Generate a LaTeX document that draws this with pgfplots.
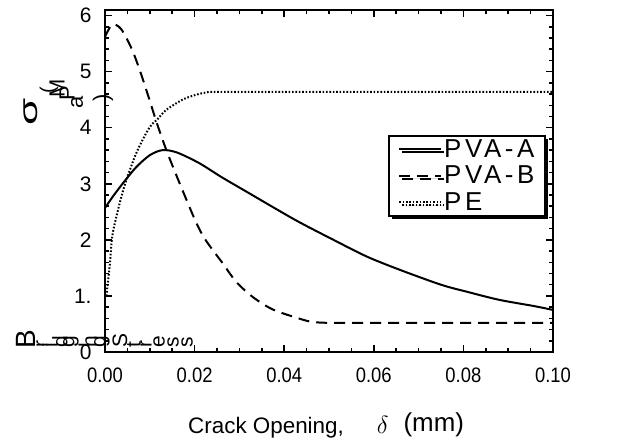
\documentclass[border=0pt]{standalone}
\usepackage{fontspec}
\setmainfont{Liberation Sans}
\newfontfamily\legfont[LetterSpace=14]{Liberation Sans}
\usepackage{pgfplots}
\pgfplotsset{compat=1.18}
\usetikzlibrary{shadows}

\begin{document}
\begin{tikzpicture}[x=1bp,y=1bp]
\path[use as bounding box] (0,0) rectangle (631,442);
\begin{axis}[
  at={(105bp,90bp)}, anchor=south west,
  scale only axis, width=448bp, height=342bp,
  xmin=0, xmax=0.1, ymin=0, ymax=6.1,
  xtick={0,0.02,0.04,0.06,0.08,0.1},
  xticklabels={\scalebox{0.88}[1]{0.00},\scalebox{0.88}[1]{0.02},\scalebox{0.88}[1]{0.04},\scalebox{0.88}[1]{0.06},\scalebox{0.88}[1]{0.08},\scalebox{0.88}[1]{0.10}},
  minor x tick num=3,
  ytick={0,1,2,3,4,5,6},
  yticklabels={\raisebox{-6bp}{0},1.,2,3,4,5,6},
  minor y tick num=4,
  axis line style={line width=2.5bp},
  every tick/.style={black, line width=1.5bp},
  major tick length=7bp, minor tick length=4bp,
  tick align=inside,
  /pgf/number format/assume math mode=true,
  ticklabel style={font=\fontsize{21}{24}\selectfont},
  xticklabel style={yshift=-12bp},
  yticklabel style={xshift=-10bp},
  xlabel={Crack Opening,\hspace{33bp}{\fontsize{32}{32}\selectfont$\delta$}\hspace{15bp}\raisebox{2bp}{\fontsize{26}{26}\selectfont(mm)}},
  xlabel style={at={(axis description cs:0.4935,-0.237)}, anchor=base, font=\fontsize{22.5}{26}\selectfont},
  legend style={at={(axis description cs:0.632,0.635)}, anchor=north west,
    draw=black, line width=2bp, fill=white,
    drop shadow={shadow xshift=3bp, shadow yshift=-3bp, opacity=1, fill=black},
    font=\legfont\fontsize{26}{28}\selectfont,
    inner xsep=9bp, inner ysep=2bp, row sep=3bp},
  legend cell align=left,
  legend image code/.code={\draw[#1] (0bp,0bp) -- (42bp,0bp);},
]
\addplot[black, line width=2bp, smooth, tension=0.5] coordinates {
(0,2.57) (0.002,2.80) (0.0043,3.04) (0.007,3.30) (0.010,3.51) (0.0128,3.60)
(0.016,3.56) (0.021,3.37) (0.026,3.12) (0.032,2.84) (0.038,2.56) (0.0435,2.31)
(0.051,2.00) (0.0585,1.70) (0.066,1.46) (0.075,1.20) (0.081,1.07) (0.088,0.93)
(0.0957,0.82) (0.1,0.75)
};
\addlegendentry{PVA-A}
\addplot[black, line width=2bp, dash pattern=on 11bp off 7bp, smooth, tension=0.5] coordinates {
(0,5.62) (0.0016,5.84) (0.0036,5.76) (0.006,5.40) (0.008,4.97) (0.010,4.48)
(0.0115,4.10) (0.0137,3.60) (0.0166,3.02) (0.0204,2.30) (0.0226,1.98)
(0.0262,1.59) (0.0293,1.25) (0.033,0.98) (0.0374,0.76) (0.0428,0.61)
(0.046,0.54) (0.050,0.52) (0.060,0.52) (0.080,0.52) (0.1,0.52)
};
\addlegendentry{PVA-B}
\addplot[black, line width=2bp, dash pattern=on 1.6bp off 1.8bp, smooth, tension=0.5] coordinates {
(0.0003,1.0) (0.001,1.5) (0.0016,2.05) (0.0025,2.4) (0.0043,2.95) (0.007,3.55)
(0.0099,4.0) (0.0117,4.15) (0.0137,4.32) (0.0173,4.5) (0.0200,4.58)
(0.0226,4.63) (0.025,4.64) (0.04,4.64) (0.07,4.64) (0.1,4.64)
};
\addlegendentry{PE}
\end{axis}
% garbled y-axis title "sigma (MPa)"
\node[rotate=90, inner sep=0, font=\fontsize{26}{26}\selectfont] at (31,330) {\scalebox{1.7}[1]{σ}};
\node[rotate=90, inner sep=0, font=\fontsize{20}{20}\selectfont] at (49,352) {(};
\node[rotate=90, inner sep=0, font=\fontsize{22}{22}\selectfont] at (57,354) {M};
\node[rotate=90, inner sep=0, font=\fontsize{22}{22}\selectfont] at (67,349) {P};
\node[rotate=90, inner sep=0, font=\fontsize{22}{22}\selectfont] at (77,340) {a};
\node[rotate=90, inner sep=0, font=\fontsize{22}{22}\selectfont] at (103,344) {)};
% garbled "Bridging Stress"
\node[rotate=90, anchor=west, inner sep=0, font=\fontsize{28}{28}\selectfont] at (26,93) {B};
\node[rotate=90, anchor=west, inner sep=0, font=\fontsize{21}{21}\selectfont] at (42,94) {r};
\node[rotate=90, anchor=west, inner sep=0, font=\fontsize{21}{21}\selectfont] at (50,94) {i};
\node[rotate=90, anchor=west, inner sep=0, font=\fontsize{21}{21}\selectfont] at (60,94) {d};
\node[rotate=90, anchor=west, inner sep=0, font=\fontsize{21}{21}\selectfont] at (71,94) {g};
\node[rotate=90, anchor=west, inner sep=0, font=\fontsize{21}{21}\selectfont] at (82,94) {i};
\node[rotate=90, anchor=west, inner sep=0, font=\fontsize{21}{21}\selectfont] at (91,94) {n};
\node[rotate=90, anchor=west, inner sep=0, font=\fontsize{21}{21}\selectfont] at (102,94) {g};
\node[rotate=90, anchor=west, inner sep=0, font=\fontsize{21}{21}\selectfont] at (120,94) {S};
\node[rotate=90, anchor=west, inner sep=0, font=\fontsize{21}{21}\selectfont] at (134,94) {t};
\node[rotate=90, anchor=west, inner sep=0, font=\fontsize{21}{21}\selectfont] at (146,94) {r};
\node[rotate=90, anchor=west, inner sep=0, font=\fontsize{21}{21}\selectfont] at (159,94) {e};
\node[rotate=90, anchor=west, inner sep=0, font=\fontsize{21}{21}\selectfont] at (173,94) {s};
\node[rotate=90, anchor=west, inner sep=0, font=\fontsize{21}{21}\selectfont] at (187,94) {s};
\end{tikzpicture}
\end{document}
